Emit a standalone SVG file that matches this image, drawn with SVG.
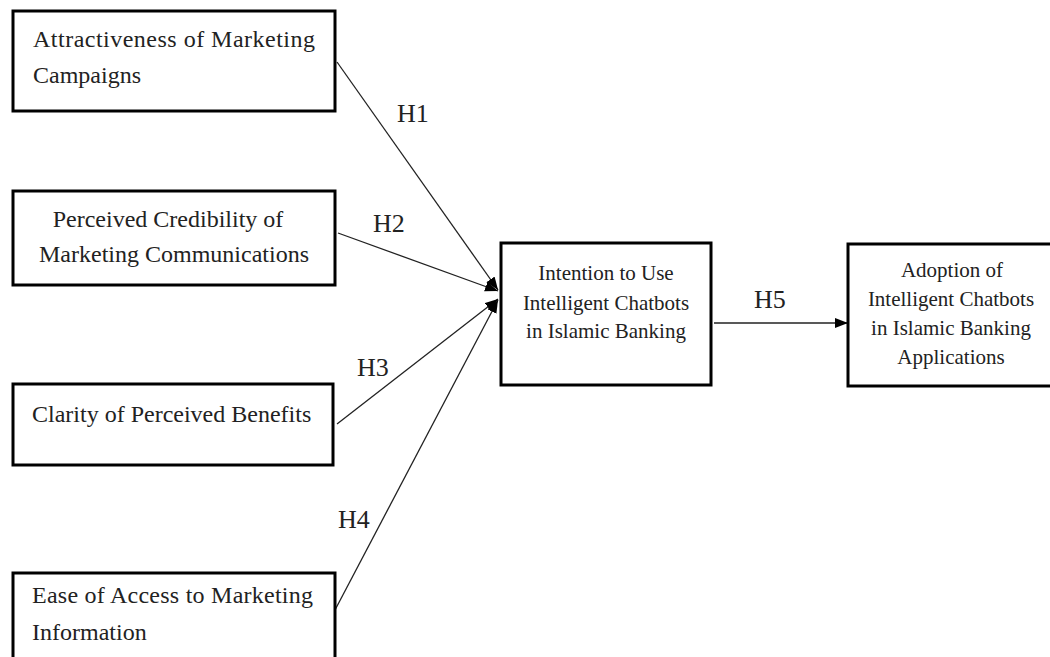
<svg xmlns="http://www.w3.org/2000/svg" width="1050" height="657" viewBox="0 0 1050 657">
<style>
.box{fill:#fff;stroke:#000;stroke-width:3}
.t{font-family:"Liberation Serif","Times New Roman",serif;fill:#222;font-size:24px}
.s{font-family:"Liberation Serif","Times New Roman",serif;fill:#222;font-size:21px;text-anchor:middle}
.h{font-family:"Liberation Serif","Times New Roman",serif;fill:#222;font-size:26px}
.c{stroke:#222;stroke-width:1.3;fill:none;marker-end:url(#ah)}
</style>
<defs>
<marker id="ah" markerUnits="userSpaceOnUse" markerWidth="14" markerHeight="12" refX="13" refY="5" orient="auto">
<path d="M0,0 L13,5 L0,10 z" fill="#000"/>
</marker>
</defs>
<rect width="1050" height="657" fill="#fff"/>
<g id="connectors">
<line class="c" x1="337" y1="62" x2="498" y2="290"/>
<line class="c" x1="338" y1="233" x2="498" y2="291"/>
<line class="c" x1="337" y1="424" x2="498" y2="299"/>
<line class="c" x1="335" y1="610" x2="498" y2="300"/>
<line class="c" x1="714" y1="323" x2="848" y2="323"/>
<text class="h" x="397" y="122">H1</text>
<text class="h" x="373" y="232">H2</text>
<text class="h" x="357" y="376">H3</text>
<text class="h" x="338" y="528">H4</text>
<text class="h" x="754" y="308">H5</text>
</g>
<g id="n1">
<rect class="box" x="13" y="11" width="322" height="100"/>
<text class="t" x="33" y="47" textLength="282" lengthAdjust="spacing">Attractiveness of Marketing</text>
<text class="t" x="33" y="83">Campaigns</text>
</g>
<g id="n2">
<rect class="box" x="13" y="191" width="322" height="94"/>
<text class="t" x="168" y="227" text-anchor="middle">Perceived Credibility of</text>
<text class="t" x="174" y="262" text-anchor="middle">Marketing Communications</text>
</g>
<g id="n3">
<rect class="box" x="13" y="384" width="320" height="81"/>
<text class="t" x="32" y="422">Clarity of Perceived Benefits</text>
</g>
<g id="n4">
<rect class="box" x="13" y="573" width="322" height="100"/>
<text class="t" x="32" y="603" textLength="281" lengthAdjust="spacing">Ease of Access to Marketing</text>
<text class="t" x="32" y="640">Information</text>
</g>
<g id="n5">
<rect class="box" x="501" y="243" width="210" height="142"/>
<text class="s" x="606" y="280">Intention to Use</text>
<text class="s" x="606" y="310">Intelligent Chatbots</text>
<text class="s" x="606" y="338">in Islamic Banking</text>
</g>
<g id="n6">
<rect class="box" x="848" y="244" width="215" height="142"/>
<text class="s" x="952" y="277">Adoption of</text>
<text class="s" x="951" y="306">Intelligent Chatbots</text>
<text class="s" x="951" y="335">in Islamic Banking</text>
<text class="s" x="951" y="364">Applications</text>
</g>
</svg>
